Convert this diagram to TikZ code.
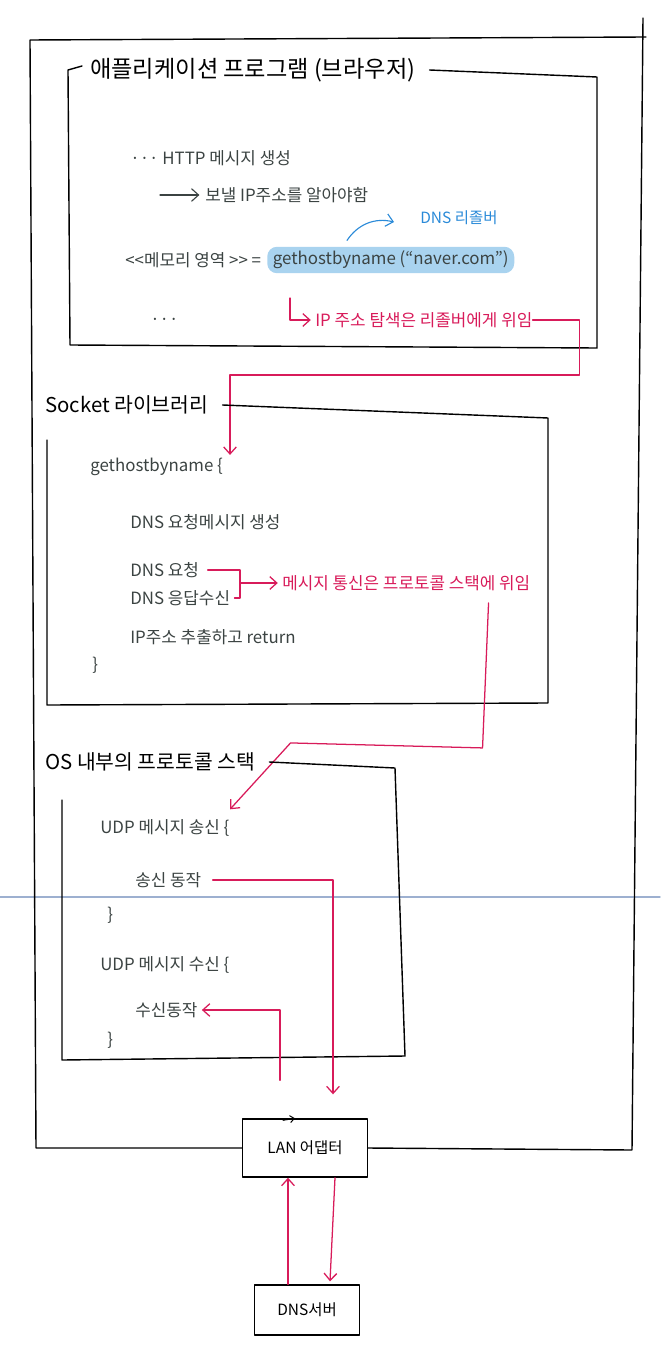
\documentclass[tikz,border=0pt]{standalone}
\usepackage{fontspec}
\setmainfont{Noto Sans CJK KR}
\usetikzlibrary{arrows.meta}
\definecolor{ink}{HTML}{3B4342}
\definecolor{rd}{HTML}{D81B5A}
\definecolor{bl}{HTML}{2A8AD8}
\definecolor{hl}{HTML}{A9D3EF}
\definecolor{sep}{HTML}{9DB0D0}
\begin{document}
\begin{tikzpicture}[x=0.025cm,y=-0.025cm,line cap=round,line join=round,
  >={Straight Barb[length=5pt,width=9pt]},
  txt/.style={anchor=west,inner sep=0pt,text=ink,font=\fontsize{12}{14}\selectfont},
  head/.style={anchor=west,inner sep=0pt,font=\fontsize{14.5}{16}\selectfont},
  note/.style={anchor=west,inner sep=0pt,text=rd,font=\fontsize{12}{14}\selectfont},
  frame/.style={line width=1pt},
  rline/.style={rd,line width=0.9pt},
  hw/.style={draw,line width=1pt,font=\fontsize{11}{13}\selectfont}]
\useasboundingbox (0,0) rectangle (660,1346);
\draw[sep,line width=1pt] (0,897) -- (660,897);

% application
\node[head,font=\fontsize{16.5}{18}\selectfont] (apptitle) at (90,70) {애플리케이션 프로그램 (브라우저)};
\node[txt] (http) at (130,158) {··· HTTP 메시지 생성};
\coordinate (a0) at (160,195);
\node[txt] (needip) at (205,195) {보낼 IP주소를 알아야함};
\draw[ink,->,line width=0.8pt] (a0) -- ([xshift=-4pt]needip.west);
\node[txt] (mem) at (125,260) {<{}<메모리 영역 >{}> =};
\node[txt,fill=hl,rounded corners=7pt,inner xsep=4pt,inner ysep=3pt,anchor=west] (call)
  at ([xshift=4pt]mem.east) {gethostbyname (“naver.com”)};
\node[anchor=west,inner sep=0pt,text=bl,font=\fontsize{11}{13}\selectfont] (resolver) at (420,218) {DNS 리졸버};
\draw[bl,->,line width=0.8pt] ([shift={(80,-6)}]call.north west) to[bend left=35] ([shift={(-26,4)}]resolver.west);
\node[txt] (dots) at (150,322) {···};
\node[note] (deleg1) at (315,320) {IP 주소 탐색은 리졸버에게 위임};
\coordinate (h0) at (290,298);
\draw[rline,->] (h0) |- ([xshift=-3pt]deleg1.west);
\draw[frame] (82,66) -- (68,70) -- (70,345) -- (597,348) -- (597,77) -- ([xshift=10pt]apptitle.east);

% socket library
\node[head] (socktitle) at (45,405) {Socket 라이브러리};
\node[txt] (gbn) at (90,467) {gethostbyname \{};
\node[txt] (dnsmsg) at (130,522) {DNS 요청메시지 생성};
\node[txt] (req) at (130,570) {DNS 요청};
\node[txt] (resp) at (130,598) {DNS 응답수신};
\node[txt] (ret) at (130,637) {IP주소 추출하고 return};
\node[txt] (close1) at (92,665) {\}};
\node[note] (deleg2) at (282,583) {메시지 통신은 프로토콜 스택에 위임};
\coordinate (br) at (240,583);
\draw[rline] ([xshift=6pt]req.east) -- (br |- req.east) -- (br |- resp.east) -- ([xshift=3pt]resp.east);
\draw[rline,->] (br) -- ([xshift=-3pt]deleg2.west);
\draw[rline,->] (deleg1.east) -- ++(47,0) -- ++(0,55) -| ([shift={(140,-3)}]gbn.north west);
\draw[frame] ([xshift=10pt]socktitle.east) -- (548,418) -- (548,703) -- (47,705) -- (47,440);

% protocol stack
\node[head] (ostitle) at (45,762) {OS 내부의 프로토콜 스택};
\node[txt] (usend) at (100,828) {UDP 메시지 송신 \{};
\node[txt] (sendop) at (135,880) {송신 동작};
\node[txt] (close2) at (107,915) {\}};
\node[txt] (urecv) at (100,965) {UDP 메시지 수신 \{};
\node[txt] (recvop) at (135,1010) {수신동작};
\node[txt] (close3) at (107,1040) {\}};
\draw[rline,->] ([shift={(-42,12)}]deleg2.south east) -- ++(-6,145) -- ++(-192,-5) -- ([shift={(130,-10)}]usend.north west);
\draw[frame] ([xshift=10pt]ostitle.east) -- (395,768) -- (405,1056) -- (62,1060) -- (62,800);

% adapter and server
\node[hw,minimum width=125*0.025cm,minimum height=58*0.025cm] (lan) at (305,1148) {LAN 어댑터};
\node[hw,minimum width=105*0.025cm,minimum height=50*0.025cm] (dns) at (307,1310) {DNS서버};
\draw[line width=0.7pt,->,>={Straight Barb[length=3pt,width=5pt]}] ([shift={(-22,2)}]lan.north) -- ([shift={(-10,0)}]lan.north);
\draw[rline,->] ([xshift=8pt]sendop.east) -| ([shift={(28,-24)}]lan.north);
\draw[rline,->] ([shift={(-25,-38)}]lan.north) |- ([xshift=3pt]recvop.east);
\draw[rline,->] ([xshift=-19*0.025cm]dns.north) -- ([xshift=-17*0.025cm]lan.south);
\draw[rline,->] ([xshift=30*0.025cm]lan.south) -- ([shift={(23,-3)}]dns.north);

% outer frame
\draw[frame] (lan.west) -- (36,1148) -- (30,40) -- (646,37);
\draw[frame] (643,18) -- (632,1150) -- (lan.east);
\end{tikzpicture}
\end{document}
